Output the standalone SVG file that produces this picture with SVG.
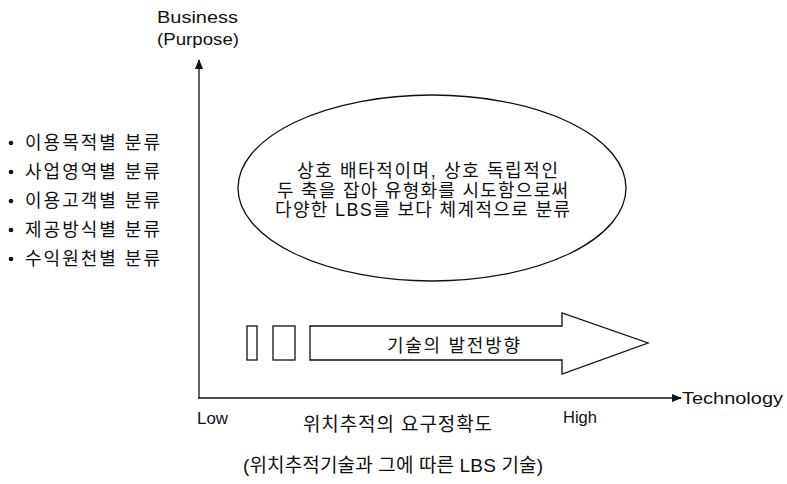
<svg xmlns="http://www.w3.org/2000/svg" width="787" height="484" viewBox="0 0 787 484">
<style>
text{font-family:"Liberation Sans","Noto Sans CJK KR",sans-serif;fill:#111}
.k{font-size:18px}
.e{font-size:17px}
.ln{fill:none;stroke:#111;stroke-width:1.3}
</style>
<defs>
<marker id="ah" markerWidth="10" markerHeight="8" refX="9" refY="4" orient="auto" markerUnits="userSpaceOnUse">
<path d="M0,0 L10,4 L0,8 Z" fill="#111"/>
</marker>
</defs>
<rect width="787" height="484" fill="#fff"/>
<g id="connectors">
<line class="ln" x1="199" y1="398" x2="199" y2="60" marker-end="url(#ah)"/>
<line class="ln" x1="198" y1="398" x2="681" y2="398" marker-end="url(#ah)"/>
</g>
<g id="axis-labels">
<text class="e" x="157" y="23" textLength="81" lengthAdjust="spacingAndGlyphs">Business</text>
<text class="e" x="157" y="45" textLength="82" lengthAdjust="spacingAndGlyphs">(Purpose)</text>
<text class="e" x="682" y="404" textLength="101" lengthAdjust="spacingAndGlyphs">Technology</text>
<text class="e" x="197" y="424" textLength="31" lengthAdjust="spacingAndGlyphs">Low</text>
<text class="e" x="563" y="423" textLength="34" lengthAdjust="spacingAndGlyphs">High</text>
<text x="303" y="431" textLength="189" lengthAdjust="spacing" style="font-size:19px">위치추적의 요구정확도</text>
<text x="243" y="472" textLength="300" lengthAdjust="spacing" style="font-size:19px">(위치추적기술과 그에 따른 LBS 기술)</text>
</g>
<g id="list">
<circle cx="11" cy="143" r="2.3" fill="#111"/>
<text class="k" x="25" y="149" textLength="135" lengthAdjust="spacing">이용목적별 분류</text>
<circle cx="11" cy="172" r="2.3" fill="#111"/>
<text class="k" x="25" y="178" textLength="135" lengthAdjust="spacing">사업영역별 분류</text>
<circle cx="11" cy="201" r="2.3" fill="#111"/>
<text class="k" x="25" y="207" textLength="135" lengthAdjust="spacing">이용고객별 분류</text>
<circle cx="11" cy="230" r="2.3" fill="#111"/>
<text class="k" x="25" y="236" textLength="135" lengthAdjust="spacing">제공방식별 분류</text>
<circle cx="11" cy="259" r="2.3" fill="#111"/>
<text class="k" x="25" y="265" textLength="135" lengthAdjust="spacing">수익원천별 분류</text>
</g>
<g id="ellipse">
<ellipse class="ln" cx="432" cy="188" rx="194" ry="93"/>
<text class="k" x="297" y="177" textLength="261" lengthAdjust="spacing">상호 배타적이며, 상호 독립적인</text>
<text class="k" x="277" y="197" textLength="291" lengthAdjust="spacing">두 축을 잡아 유형화를 시도함으로써</text>
<text class="k" x="275" y="216" textLength="295" lengthAdjust="spacing">다양한 LBS를 보다 체계적으로 분류</text>
</g>
<g id="tech-arrow">
<rect class="ln" x="247" y="326" width="10" height="34"/>
<rect class="ln" x="273" y="326" width="22" height="34"/>
<path class="ln" d="M310,326 H562 V313 L648,343 L562,374 V360 H310 Z"/>
<text class="k" x="387" y="352" textLength="133" lengthAdjust="spacing">기술의 발전방향</text>
</g>
</svg>
